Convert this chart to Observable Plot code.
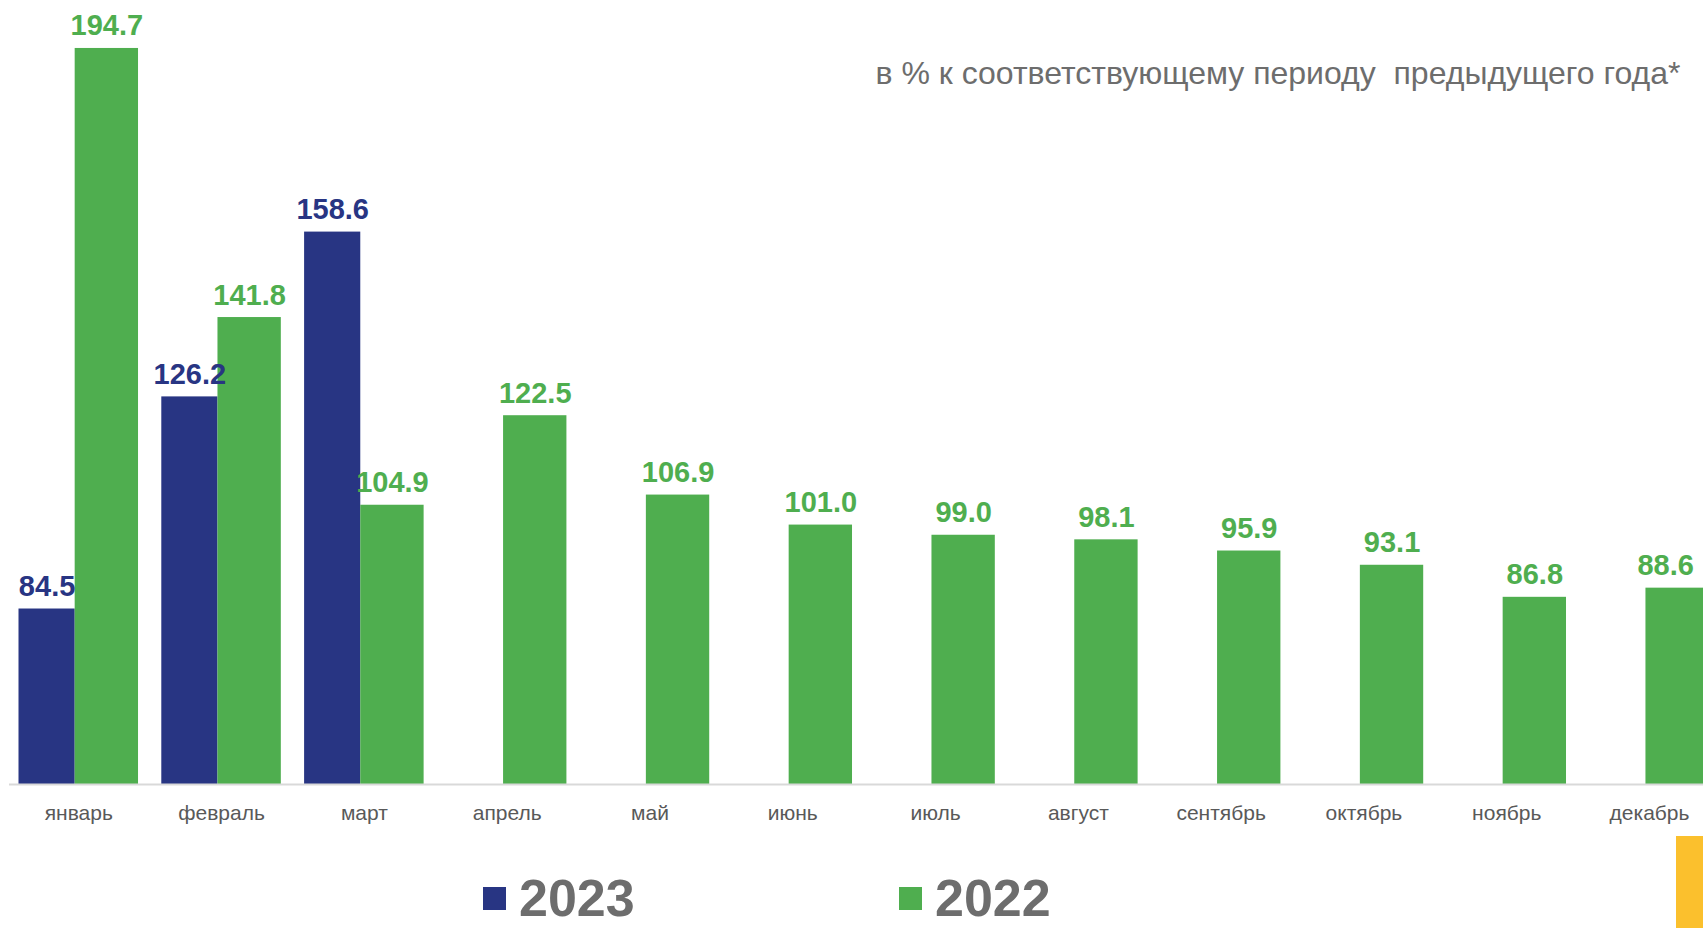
<!DOCTYPE html>
<html><head><meta charset="utf-8">
<script src="https://cdn.jsdelivr.net/npm/d3@7"></script>
<script src="https://cdn.jsdelivr.net/npm/@observablehq/plot@0.6"></script>
<style>
html,body{margin:0;padding:0;background:#fff;overflow:hidden;}
#wrap{position:relative;width:1703px;height:928px;overflow:hidden;font-family:"Liberation Sans",Arial,sans-serif;}
#chart svg{display:block;max-width:none;}
#chart svg text{white-space:pre;}
.leg{position:absolute;top:872px;display:flex;align-items:center;}
.sw{display:inline-block;width:23px;height:23px;margin-right:13px;}
.lt{font-size:52px;font-weight:bold;color:#6d6d6d;line-height:1;}
.ybar{position:absolute;left:1676px;top:836px;width:27px;height:92px;background:#fbc02d;}
</style></head><body>
<div id="wrap">
  <div id="chart"></div>
  <div class="leg" style="left:483px"><span class="sw" style="background:#283583"></span><span class="lt">2023</span></div>
  <div class="leg" style="left:899px"><span class="sw" style="background:#4fae4f"></span><span class="lt">2022</span></div>
  <div class="ybar"></div>
</div>
<script>
const months = ["январь","февраль","март","апрель","май","июнь","июль","август","сентябрь","октябрь","ноябрь","декабрь"];
const values2023 = [84.5, 126.2, 158.6, null, null, null, null, null, null, null, null, null];
const values2022 = [194.7, 141.8, 104.9, 122.5, 106.9, 101.0, 99.0, 98.1, 95.9, 93.1, 86.8, 88.6];
const color2023 = "#283583";
const color2022 = "#4fae4f";
const subtitle = "в % к соответствующему периоду  предыдущего года*";

const data2023 = months.map((m, i) => ({month: m, value: values2023[i]})).filter(d => d.value != null);
const data2022 = months.map((m, i) => ({month: m, value: values2022[i]})).filter(d => d.value != null);
const lastMonth = months[months.length - 1];

const xRange = [18.5, 1708.8];
const xPadding = 0.163;
const bw = d3.scaleBand(months, xRange).paddingInner(xPadding).paddingOuter(0).bandwidth();
const blueW = bw * 0.47;

const W = 1703, H = 840;
const labelStyle = {y: "value", text: d => d.value.toFixed(1), dy: -13, lineAnchor: "bottom", fontSize: 29, fontWeight: "bold"};
const chart = Plot.plot({
  width: W,
  height: H,
  marginLeft: 9,
  marginRight: 0,
  marginTop: 0,
  marginBottom: 56,
  style: {fontFamily: "'Liberation Sans', Arial, sans-serif", background: "#fff"},
  x: {domain: months, range: xRange, paddingInner: xPadding, paddingOuter: 0, round: false, label: null, axis: null},
  y: {domain: [50, 200], range: [784, 21], axis: null},
  marks: [
    Plot.barY(data2023, {x: "month", y1: 50, y2: "value", fill: color2023, insetRight: bw - blueW, insetLeft: 0}),
    Plot.barY(data2022, {x: "month", y1: 50, y2: "value", fill: color2022, insetLeft: blueW, insetRight: 0}),
    Plot.ruleY([50], {stroke: "#d9d9d9", strokeWidth: 2}),
    Plot.axisX({tickSize: 0, tickPadding: 21, fontSize: 21, fill: "#595959", label: null}),
    Plot.text(data2023, {...labelStyle, x: "month", dx: (blueW - bw) / 2, fill: color2023}),
    Plot.text(data2022.filter(d => d.month !== lastMonth), {...labelStyle, x: "month", dx: blueW / 2, fill: color2022}),
    Plot.text(data2022.filter(d => d.month === lastMonth), {...labelStyle, x: "month", dx: blueW / 2 - 12, fill: color2022}),
    Plot.text([subtitle], {frameAnchor: "top-right", text: d => d, textAnchor: "end", lineAnchor: "bottom", dx: -23, dy: 83, fontSize: 32, fill: "#6d6d6d"})
  ]
});
document.getElementById("chart").appendChild(chart);
</script>
</body></html>
